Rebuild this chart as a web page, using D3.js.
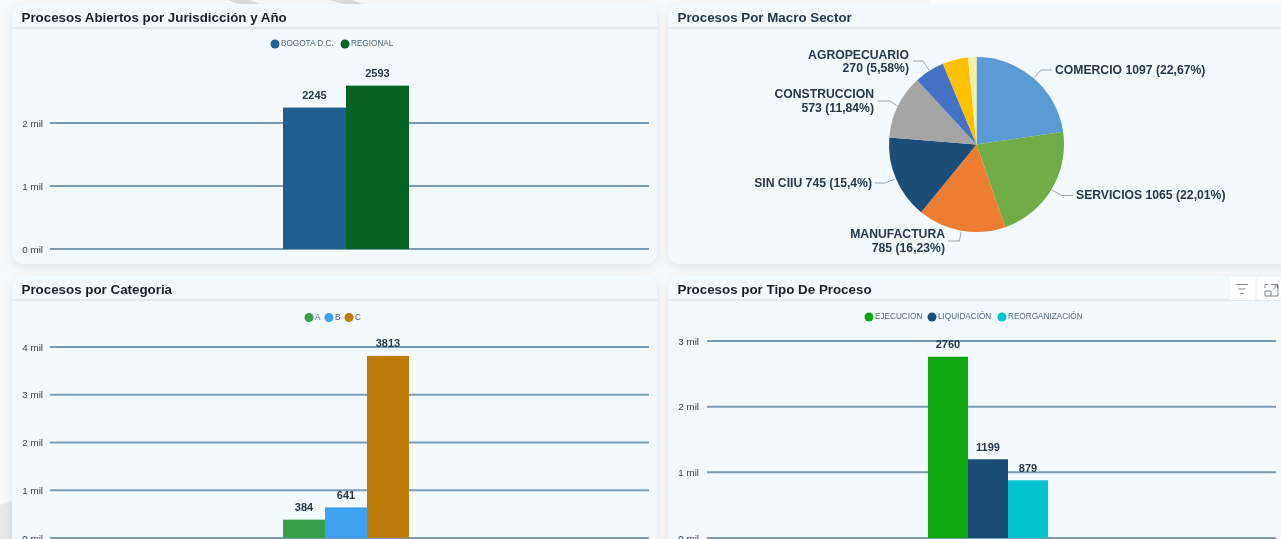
<!DOCTYPE html>
<html><head><meta charset="utf-8">
<script src="https://cdn.jsdelivr.net/npm/d3@7/dist/d3.min.js"></script>
<style>
html,body{margin:0;padding:0;background:#f7f8f9;overflow:hidden}
svg{display:block;filter:blur(0.35px)}
text{font-family:"Liberation Sans",Arial,sans-serif}
</style></head><body><svg id="c" width="1281" height="539"></svg>
<script>
const juris = ["BOGOTA D.C.","REGIONAL"];
const jurisValues = [2245,2593];
const jurisColors = ["#1f6091","#076324"];
const jurisTicks = [0,1000,2000];

const cats = ["A","B","C"];
const catValues = [384,641,3813];
const catColors = ["#38a04c","#40a0f0","#bd7a06"];
const catTicks = [0,1000,2000,3000,4000];

const tipos = ["EJECUCION","LIQUIDACIÓN","REORGANIZACIÓN"];
const tipoValues = [2760,1199,879];
const tipoColors = ["#10a60e","#1a4e78","#02c4d0"];
const tipoTicks = [0,1000,2000,3000];

const sectors = ["COMERCIO","SERVICIOS","MANUFACTURA","SIN CIIU","CONSTRUCCION","AGROPECUARIO","OTROS 1","OTROS 2"];
const sectorValues = [1097,1065,785,745,573,270,229,75];
const sectorPct = ["22,67%","22,01%","16,23%","15,4%","11,84%","5,58%","",""];
const sectorColors = ["#5b9bd5","#70ad47","#ed7d31","#1a4e78","#a5a5a5","#4472c4","#ffc000","#f5f0a8"];

const svg = d3.select("#c");
const defs = svg.append("defs");
const f = defs.append("filter").attr("id","sh").attr("x","-5%").attr("y","-5%").attr("width","110%").attr("height","115%");
f.append("feDropShadow").attr("dx",0).attr("dy",3).attr("stdDeviation",5).attr("flood-color","#8a98a5").attr("flood-opacity",0.22);

// faint backdrop
svg.append("rect").attr("width",1281).attr("height",539).attr("fill","#f8f9fa");
svg.append("rect").attr("x",930).attr("y",0).attr("width",351).attr("height",5).attr("fill","#ffffff");
svg.append("path").attr("d","M228 0L250 0L262 5L240 5Z M330 0L352 0L365 5L345 5Z").attr("fill","#dcdcdc");
svg.append("path").attr("d","M0 505L12 500L12 539L0 539Z").attr("fill","#e8e8e8");

function panel(x,y,w,h,title,lineY,titleColor){
  svg.append("rect").attr("x",x).attr("y",y).attr("width",w).attr("height",h).attr("rx",11)
    .attr("fill","#f2f9ff").attr("filter","url(#sh)");
  svg.append("line").attr("x1",x).attr("x2",x+w).attr("y1",lineY).attr("y2",lineY).attr("stroke","#dbe2e8").attr("stroke-width",1.5);
  svg.append("text").attr("x",x+9.5).attr("y",lineY-6).attr("font-size",13.35).attr("font-weight",700)
    .attr("fill",titleColor).text(title);
}

panel(12,4,645,260,"Procesos Abiertos por Jurisdicción y Año",28,"#17212b");
panel(668,4,640,260,"Procesos Por Macro Sector",28,"#24364a");
panel(12,276,645,300,"Procesos por Categoria",300,"#17212b");
panel(668,276,640,300,"Procesos por Tipo De Proceso",300,"#17212b");

function barChart(o){
  const y = d3.scaleLinear().domain([0,o.maxTick]).range([o.y0,o.yTop]);
  const x = d3.scaleBand().domain(o.names).range([o.barL,o.barR]).padding(0);
  const ax = d3.axisLeft(y).tickValues(o.ticks).tickSize(0).tickPadding(0).tickFormat(d=>(d/1000)+" mil");
  const g = svg.append("g").attr("transform",`translate(${o.tickX},0)`).call(ax);
  g.select(".domain").remove();
  g.selectAll("text").attr("font-size",9.8).attr("fill","#333d47").style("font-family",'"Liberation Sans",Arial,sans-serif');
  svg.append("g").selectAll("line").data(o.ticks).join("line")
    .attr("x1",o.gridL).attr("x2",o.gridR).attr("y1",d=>y(d)).attr("y2",d=>y(d))
    .attr("stroke","#7c9cb6").attr("stroke-width",2);
  svg.append("g").selectAll("rect").data(o.values).join("rect")
    .attr("x",(d,i)=>x(o.names[i])).attr("width",x.bandwidth())
    .attr("y",d=>y(d)).attr("height",d=>o.y0-y(d)).attr("fill",(d,i)=>o.colors[i]);
  svg.append("g").selectAll("text").data(o.values).join("text")
    .attr("x",(d,i)=>x(o.names[i])+x.bandwidth()/2).attr("y",d=>y(d)-8.5)
    .attr("text-anchor","middle").attr("font-size",11).attr("font-weight",700).attr("fill","#26374a").text(d=>d);
  const lg = svg.append("g");
  o.names.forEach((n,i)=>{
    lg.append("circle").attr("cx",o.legendX[i]).attr("cy",o.legendY).attr("r",4.5).attr("fill",o.colors[i]);
    lg.append("text").attr("x",o.legendX[i]+6).attr("y",o.legendY+2).attr("font-size",8.2).attr("fill","#4f6578").text(n);
  });
}

barChart({names:juris,values:jurisValues,colors:jurisColors,ticks:jurisTicks,maxTick:2000,
  y0:249,yTop:123,tickX:43,gridL:50,gridR:649,barL:283,barR:409,legendX:[275,345],legendY:44});
barChart({names:cats,values:catValues,colors:catColors,ticks:catTicks,maxTick:4000,
  y0:538,yTop:347,tickX:43,gridL:50,gridR:649,barL:283,barR:409,legendX:[309,329,349],legendY:317.5});
barChart({names:tipos,values:tipoValues,colors:tipoColors,ticks:tipoTicks,maxTick:3000,
  y0:538,yTop:341,tickX:699,gridL:707,gridR:1276,barL:928,barR:1048,legendX:[869,932,1002],legendY:317});

// pie
const cx=976.5, cy=144.5, R=87.5;
const pie = d3.pie().sort(null)(sectorValues);
const arc = d3.arc().innerRadius(0).outerRadius(R);
const pg = svg.append("g").attr("transform",`translate(${cx},${cy})`);
pg.selectAll("path").data(pie).join("path").attr("d",arc).attr("fill",(d,i)=>sectorColors[i]);

const labelLayout = [
  {elbow:[1041,70],end:[1052,70],tx:1055,anchor:"start",lines:d=>[`${d.n} ${d.v} (${d.p})`],ty:[74]},
  {elbow:[1062,195.5],end:[1073,195.5],tx:1076,anchor:"start",lines:d=>[`${d.n} ${d.v} (${d.p})`],ty:[199]},
  {elbow:[959.5,241],end:[948,241],tx:945,anchor:"end",lines:d=>[d.n,`${d.v} (${d.p})`],ty:[238,252]},
  {elbow:[885,183],end:[875,183],tx:872,anchor:"end",lines:d=>[`${d.n} ${d.v} (${d.p})`],ty:[187]},
  {elbow:[890,101],end:[878,101],tx:874,anchor:"end",lines:d=>[d.n,`${d.v} (${d.p})`],ty:[98,112]},
  {elbow:[923,61],end:[913,61],tx:909,anchor:"end",lines:d=>[d.n,`${d.v} (${d.p})`],ty:[59,72]}
];
const edge = d3.arc().innerRadius(R+1).outerRadius(R+1);
labelLayout.forEach((l,i)=>{
  const c = edge.centroid(pie[i]);
  svg.append("path").attr("fill","none").attr("stroke","#9aa5ad").attr("stroke-width",1)
    .attr("d",d3.line()([[cx+c[0],cy+c[1]],l.elbow,l.end]));
  const d = {n:sectors[i],v:sectorValues[i],p:sectorPct[i]};
  l.lines(d).forEach((t,j)=>{
    svg.append("text").attr("x",l.tx).attr("y",l.ty[j]).attr("text-anchor",l.anchor)
      .attr("font-size",12.2).attr("font-weight",700).attr("fill","#25384c").text(t);
  });
});

// visual header buttons
svg.append("rect").attr("x",1230).attr("y",277).attr("width",25).attr("height",23).attr("fill","#fff");
svg.append("rect").attr("x",1258).attr("y",277).attr("width",23).attr("height",23).attr("fill","#fff");
svg.append("path").attr("fill","none").attr("stroke","#7f8790").attr("stroke-width",1)
  .attr("d","M1236 284.5H1248M1238.5 289H1245.5M1240.5 293.5H1243.5");
svg.append("path").attr("fill","none").attr("stroke","#7f8790").attr("stroke-width",1)
  .attr("d","M1271 284.5H1278V296H1265V291M1265 288V284.5H1268M1271 291V296M1265 291H1271M1273 289.5L1277 285.5M1274 285H1277.5V288.5");
</script></body></html>
